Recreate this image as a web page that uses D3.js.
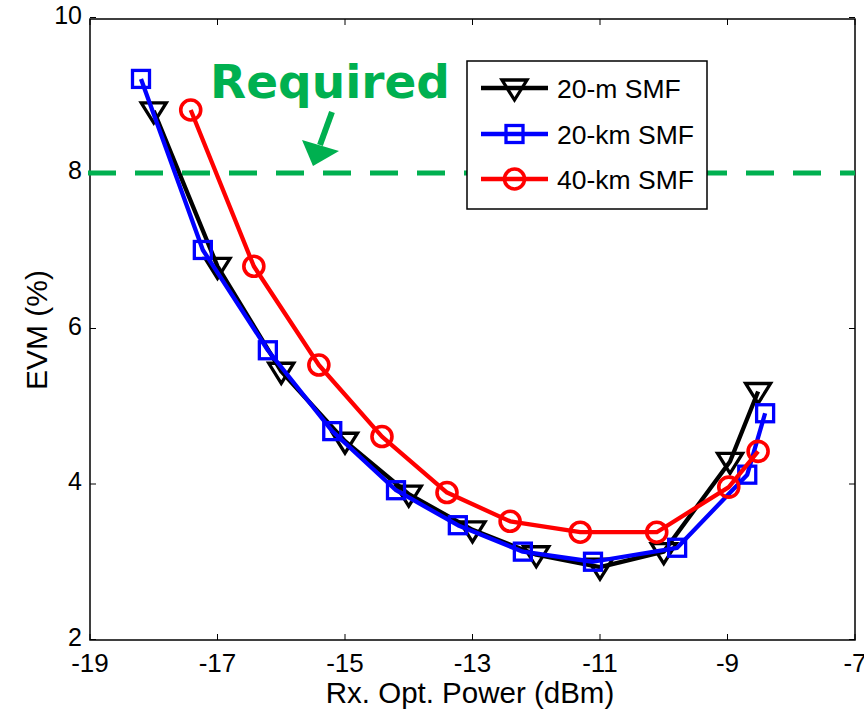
<!DOCTYPE html>
<html><head><meta charset="utf-8">
<script src="https://cdn.jsdelivr.net/npm/d3@7"></script>
<style>body{margin:0;background:#fff}svg{display:block;font-family:Arial,"Liberation Sans",sans-serif}</style>
</head><body><svg id="c" width="864" height="713"></svg>
<script>
const xTicks = [-19,-17,-15,-13,-11,-9,-7];
const yTicks = [2,4,6,8,10];
const seriesNames = ["20-m SMF","20-km SMF","40-km SMF"];
const x20m = [-18.0,-17.0,-16.0,-15.0,-14.0,-13.0,-12.0,-11.0,-10.0,-8.96,-8.52];
const y20m = [8.8,6.8,5.45,4.55,3.87,3.41,3.09,2.93,3.13,4.29,5.19];
const x20km = [-18.2,-17.23,-16.21,-15.2,-14.2,-13.23,-12.21,-11.11,-9.79,-8.69,-8.41];
const y20km = [9.21,7.01,5.72,4.68,3.92,3.47,3.13,3.0,3.18,4.12,4.91];
const x40km = [-17.42,-16.43,-15.41,-14.42,-13.4,-12.41,-11.31,-10.11,-8.98,-8.52];
const y40km = [8.81,6.8,5.53,4.61,3.89,3.52,3.38,3.38,3.96,4.42];
const requiredEVM = 8;

const svg = d3.select("#c");
const L=90,R=855,T=19,B=640;
const x = d3.scaleLinear().domain([-19,-7]).range([L,R]);
const y = d3.scaleLinear().domain([2,10]).range([B-0.5,T-1.5]);

const g = svg.append("g");
xTicks.forEach(t=>{
  g.append("line").attr("x1",x(t)).attr("x2",x(t)).attr("y1",B).attr("y2",B-6).attr("stroke","#000").attr("stroke-width",1);
  g.append("line").attr("x1",x(t)).attr("x2",x(t)).attr("y1",T).attr("y2",T+6).attr("stroke","#000").attr("stroke-width",1);
  g.append("text").attr("x",x(t)).attr("y",B+32).attr("text-anchor","middle").attr("font-size",26).text(t<0?"-"+Math.abs(t):t);
});
yTicks.forEach(t=>{
  g.append("line").attr("x1",L).attr("x2",L+6).attr("y1",y(t)).attr("y2",y(t)).attr("stroke","#000").attr("stroke-width",1);
  g.append("line").attr("x1",R).attr("x2",R-6).attr("y1",y(t)).attr("y2",y(t)).attr("stroke","#000").attr("stroke-width",1);
  g.append("text").attr("x",L-8).attr("y",y(t)+6).attr("text-anchor","end").attr("font-size",25).text(t);
});
svg.append("rect").attr("x",L).attr("y",T).attr("width",R-L).attr("height",B-T).attr("fill","none").attr("stroke","#000").attr("stroke-width",1.5);

svg.append("text").attr("x",470).attr("y",703).attr("text-anchor","middle").attr("font-size",29.5).text("Rx. Opt. Power (dBm)");
svg.append("text").attr("transform","translate(47,330) rotate(-90)").attr("text-anchor","middle").attr("font-size",30).text("EVM (%)");

const green="#00B050";
svg.append("line").attr("x1",x(-19)-2).attr("x2",R).attr("y1",y(requiredEVM)).attr("y2",y(requiredEVM))
  .attr("stroke",green).attr("stroke-width",5).attr("stroke-dasharray","28,19");
svg.append("text").attr("x",210).attr("y",98).attr("font-family","DejaVu Sans, Verdana, sans-serif").attr("font-weight","bold")
  .attr("font-size",47).attr("fill",green).text("Required");
const tip=[313,166], tail=[332,112];
svg.append("line").attr("x1",tail[0]).attr("y1",tail[1]).attr("x2",320).attr("y2",145).attr("stroke",green).attr("stroke-width",6);
svg.append("path").attr("d",`M${tip[0]},${tip[1]} L302,140 L339,151 Z`).attr("fill",green);

const series=[
  {xs:x20m,ys:y20m,color:"#000",marker:"tri"},
  {xs:x20km,ys:y20km,color:"#0000FF",marker:"sq"},
  {xs:x40km,ys:y40km,color:"#FF0000",marker:"circ"}
];
function drawMarker(sel,type,cx,cy,color){
  if(type==="tri") sel.append("path").attr("d",`M${cx-12.5},${cy-8} L${cx+12.5},${cy-8} L${cx},${cy+12} Z`).attr("fill","none").attr("stroke",color).attr("stroke-width",3.3).attr("stroke-linejoin","miter");
  else if(type==="sq") sel.append("rect").attr("x",cx-8.5).attr("y",cy-8.5).attr("width",17).attr("height",17).attr("fill","none").attr("stroke",color).attr("stroke-width",3.3);
  else sel.append("circle").attr("cx",cx).attr("cy",cy).attr("r",10).attr("fill","none").attr("stroke",color).attr("stroke-width",3.6);
}
const line=d3.line().x(d=>x(d[0])).y(d=>y(d[1]));
series.forEach(s=>{
  const pts=s.xs.map((v,i)=>[v,s.ys[i]]);
  const sg=svg.append("g");
  sg.append("path").attr("d",line(pts)).attr("fill","none").attr("stroke",s.color).attr("stroke-width",4.3).attr("stroke-linejoin","round");
  pts.forEach(p=>drawMarker(sg,s.marker,x(p[0]),y(p[1]),s.color));
});

const lg=svg.append("g");
lg.append("rect").attr("x",467).attr("y",61).attr("width",240).attr("height",148).attr("fill","#fff").attr("stroke","#000").attr("stroke-width",1.5);
const rowsY=[88,134,179];
series.forEach((s,i)=>{
  lg.append("line").attr("x1",481).attr("x2",548).attr("y1",rowsY[i]).attr("y2",rowsY[i]).attr("stroke",s.color).attr("stroke-width",4.3);
  drawMarker(lg,s.marker,514.5,rowsY[i],s.color);
  lg.append("text").attr("x",557).attr("y",rowsY[i]+9.5).attr("font-size",26.5).text(seriesNames[i]);
});
</script></body></html>
